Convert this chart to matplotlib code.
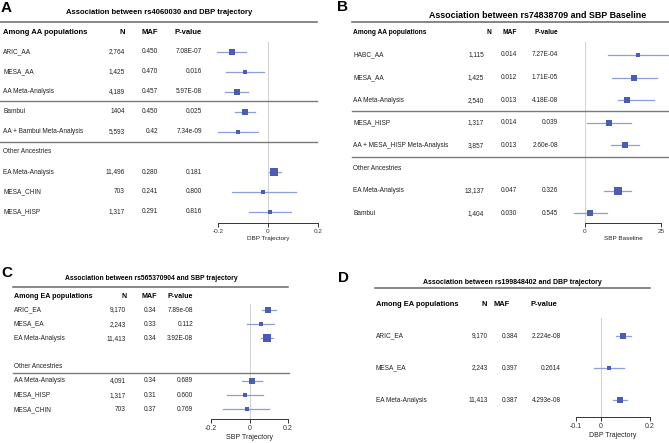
import matplotlib
matplotlib.use("Agg")
import matplotlib.pyplot as plt
from matplotlib.lines import Line2D
from matplotlib.transforms import blended_transform_factory

plt.rcParams["font.family"] = ["Liberation Sans", "DejaVu Sans"]

W, H = 669, 443
BOX = "#4a5db0"
CI = "#8e9fd8"
RULE = "#7a7a7a"

# ---------------- panel A: rs4060030 / DBP trajectory
a_names = ["ARIC_AA", "MESA_AA", "AA Meta-Analysis", "Bambui", "AA + Bambui Meta-Analysis",
           "Other Ancestries", "EA Meta-Analysis", "MESA_CHIN", "MESA_HISP"]
a_n = ["2,764", "1,425", "4,189", "1404", "5,593", "", "11,496", "703", "1,317"]
a_maf = ["0.450", "0.470", "0.457", "0.450", "0.42", "", "0.280", "0.241", "0.291"]
a_p = ["7.08E-07", "0.016", "5.97E-08", "0.025", "7.34e-09", "", "0.181", "0.800", "0.816"]
a_est = [-0.144, -0.094, -0.125, -0.091, -0.120, None, 0.022, -0.019, 0.008]
a_lo = [-0.203, -0.169, -0.171, -0.133, -0.200, None, 0.005, -0.146, -0.076]
a_hi = [-0.087, -0.016, -0.080, -0.053, -0.040, None, 0.052, 0.113, 0.093]

# ---------------- panel B: rs74838709 / SBP baseline
b_names = ["HABC_AA", "MESA_AA", "AA Meta-Analysis", "MESA_HISP", "AA + MESA_HISP Meta-Analysis",
           "Other Ancestries", "EA Meta-Analysis", "Bambui"]
b_n = ["1,115", "1,425", "2,540", "1,317", "3,857", "", "13,137", "1,404"]
b_maf = ["0.014", "0.012", "0.013", "0.014", "0.013", "", "0.047", "0.030"]
b_p = ["7.27E-04", "1.71E-05", "4.18E-08", "0.039", "2.60e-08", "", "0.326", "0.545"]
b_est = [17.3, 16.2, 13.7, 7.9, 13.2, None, 10.7, 1.8]
b_lo = [7.5, 8.8, 10.7, 0.8, 8.6, None, 6.4, -3.5]
b_hi = [27.5, 23.6, 22.7, 15.1, 17.9, None, 15.1, 7.1]

# ---------------- panel C: rs565370904 / SBP trajectory
c_names = ["ARIC_EA", "MESA_EA", "EA Meta-Analysis", "", "Other Ancestries",
           "AA Meta-Analysis", "MESA_HISP", "MESA_CHIN"]
c_n = ["9,170", "2,243", "11,413", "", "", "4,091", "1,317", "703"]
c_maf = ["0.34", "0.33", "0.34", "", "", "0.34", "0.31", "0.37"]
c_p = ["7.89e-08", "0.112", "3.92E-08", "", "", "0.689", "0.600", "0.769"]
c_est = [0.098, 0.060, 0.089, None, None, 0.011, -0.023, -0.015]
c_lo = [0.066, -0.015, 0.058, None, None, -0.041, -0.115, -0.136]
c_hi = [0.138, 0.127, 0.124, None, None, 0.063, 0.072, 0.103]

# ---------------- panel D: rs199848402 / DBP trajectory
d_names = ["ARIC_EA", "MESA_EA", "EA Meta-Analysis"]
d_n = ["9,170", "2,243", "11,413"]
d_maf = ["0.384", "0.397", "0.387"]
d_p = ["2.224e-08", "0.2614", "4.293e-08"]
d_est = [0.092, 0.034, 0.078]
d_lo = [0.061, -0.026, 0.051]
d_hi = [0.123, 0.096, 0.108]

fig = plt.figure(figsize=(W / 100, H / 100), dpi=100)
fig.patch.set_facecolor("white")


def fx(x):
    return x / W


def fy(y):
    return 1 - y / H


def hline(x0, x1, y, color=RULE, lw=1.0):
    fig.add_artist(Line2D([fx(x0), fx(x1)], [fy(y), fy(y)], transform=fig.transFigure,
                          color=color, lw=lw))


def panel(lay, names, n, maf, p, est, lo, hi, boxes):
    # forest axes placed at the pixel box of the reference
    x0, x1, ytop, yax = lay["ax"]
    ax = fig.add_axes([fx(x0), fy(yax), (x1 - x0) / W, (yax - ytop) / H])
    ax.patch.set_alpha(0)
    row0, step = lay["rows"]
    ax.set_ylim((yax - row0) / step, (ytop - row0) / step)
    ax.set_xlim(lay["xlim"])
    for s in ["left", "top", "right"]:
        ax.spines[s].set_visible(False)
    ax.spines["bottom"].set_color("#333333")
    ax.spines["bottom"].set_linewidth(0.7)
    ax.set_yticks([])
    ax.set_xticks(lay["ticks"])
    ax.set_xticklabels(lay["ticklabels"])
    ax.tick_params(axis="x", length=3, width=0.7, labelsize=lay["tfs"], pad=1.5, colors="#333333")
    ax.set_xlabel(lay["xlabel"], fontsize=lay["tfs"], labelpad=1, color="#222222")
    ax.axvline(0, color="#d4d4d4", lw=0.8, zorder=0)

    tr = blended_transform_factory(fig.transFigure, ax.transData)
    cx = lay["cols"]
    for i, name in enumerate(names):
        ax.text(fx(cx[0]), i, name, transform=tr, ha="left", va="center", fontsize=4.7, color="#222222")
        ax.text(fx(cx[1]), i, n[i], transform=tr, ha="right", va="center", fontsize=4.7, color="#222222")
        ax.text(fx(cx[2]), i, maf[i], transform=tr, ha="right", va="center", fontsize=4.7, color="#222222")
        ax.text(fx(cx[3]), i, p[i], transform=tr, ha="right", va="center", fontsize=4.7, color="#222222")
        if est[i] is None:
            continue
        ax.plot([lo[i], hi[i]], [i, i], color=CI, lw=0.9, clip_on=False, zorder=2)
        ax.plot([est[i]], [i], marker="s", ms=boxes[i] * 0.83, color=BOX, mec=BOX, mew=0,
                clip_on=False, zorder=3)

    # header row, title, rules and panel letter in pixel space
    hx, hy = lay["head"], lay["head_y"]
    hfs = lay["hfs"]
    fig.text(fx(hx[0]), fy(hy), lay["head_label"], ha="left", va="center", fontsize=hfs, fontweight="bold")
    fig.text(fx(hx[1]), fy(hy), "N", ha="right", va="center", fontsize=hfs, fontweight="bold")
    fig.text(fx(hx[2]), fy(hy), "MAF", ha="right", va="center", fontsize=hfs, fontweight="bold")
    fig.text(fx(hx[3]), fy(hy), "P-value", ha="right", va="center", fontsize=hfs, fontweight="bold")
    tx, ty = lay["title_xy"]
    fig.text(fx(tx), fy(ty), lay["title"], ha="center", va="center", fontsize=lay["title_fs"],
             fontweight="bold")
    lx, ly = lay["letter_xy"]
    fig.text(fx(lx), fy(ly), lay["letter"], ha="left", va="top", fontsize=11, fontweight="bold")
    rx0, rx1, ry = lay["title_rule"]
    hline(rx0, rx1, ry, color="#666666", lw=1.1)
    for y in lay["seps"]:
        hline(rx0, lay["sep_x1"], y, lw=1.0)
    return ax


panel(dict(ax=(218, 318, 42, 223), rows=(52, 20), xlim=(-0.2, 0.2),
           ticks=[-0.2, 0, 0.2], ticklabels=["-0.2", "0", "0.2"], xlabel="DBP Trajectory", tfs=4.6,
           cols=(3, 125, 158, 202), head=(3, 125, 158, 202), head_y=32, hfs=5.5,
           head_label="Among AA populations",
           title="Association between rs4060030 and DBP trajectory", title_xy=(159, 13), title_fs=5.5,
           letter="A", letter_xy=(1, 1), title_rule=(0, 317, 22), seps=[101, 142], sep_x1=317),
      a_names, a_n, a_maf, a_p, a_est, a_lo, a_hi, [5, 3, 5, 6, 4, 0, 7, 3, 4])

panel(dict(ax=(585, 661, 42, 223), rows=(55, 22.6), xlim=(0, 25),
           ticks=[0, 25], ticklabels=["0", "25"], xlabel="SBP Baseline", tfs=4.6,
           cols=(353, 484, 517, 558), head=(353, 491, 517, 558), head_y=33, hfs=4.8,
           head_label="Among AA populations",
           title="Association between rs74838709 and SBP Baseline", title_xy=(538, 15), title_fs=6.4,
           letter="B", letter_xy=(337, 0), title_rule=(352, 669, 22), seps=[110.5, 157], sep_x1=669),
      b_names, b_n, b_maf, b_p, b_est, b_lo, b_hi, [4, 5, 6, 5, 6, 0, 7, 6])

panel(dict(ax=(211, 288, 304, 419), rows=(310, 14.2), xlim=(-0.2, 0.2),
           ticks=[-0.2, 0, 0.2], ticklabels=["-0.2", "0", "0.2"], xlabel="SBP Trajectory", tfs=5,
           cols=(14, 126, 156, 193), head=(14, 127, 157, 193), head_y=297, hfs=5.1,
           head_label="Among EA populations",
           title="Association between rs565370904 and SBP trajectory", title_xy=(151, 278), title_fs=4.9,
           letter="C", letter_xy=(1, 266), title_rule=(13, 288, 287), seps=[373], sep_x1=289),
      c_names, c_n, c_maf, c_p, c_est, c_lo, c_hi, [6, 3, 7, 0, 0, 5, 3, 3])

panel(dict(ax=(576, 650, 318, 417), rows=(336, 32), xlim=(-0.1, 0.2),
           ticks=[-0.1, 0, 0.2], ticklabels=["-0.1", "0", "0.2"], xlabel="DBP Trajectory", tfs=5,
           cols=(376, 488, 518, 561), head=(376, 487, 510, 557), head_y=304, hfs=5.4,
           head_label="Among EA populations",
           title="Association between rs199848402 and DBP trajectory", title_xy=(512, 283), title_fs=5.0,
           letter="D", letter_xy=(338, 271), title_rule=(375, 650, 288), seps=[], sep_x1=650),
      d_names, d_n, d_maf, d_p, d_est, d_lo, d_hi, [5, 3, 6])

fig.savefig("out.png", dpi=100)
